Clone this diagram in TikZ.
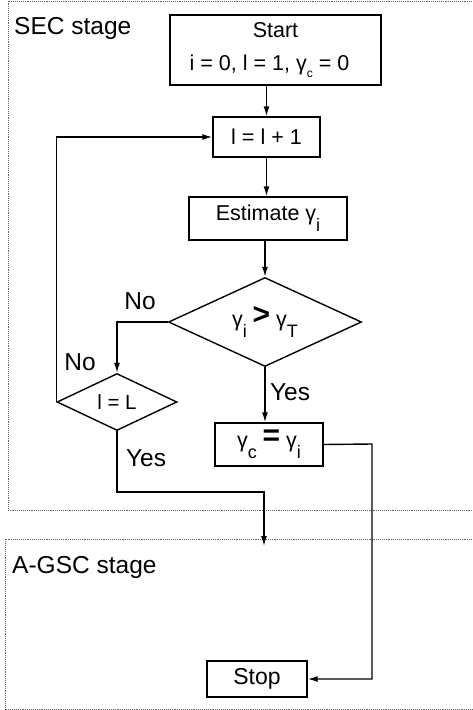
\documentclass[tikz,border=0pt]{standalone}
\usepackage{fontspec}
\setmainfont{Liberation Sans}
\usetikzlibrary{shapes.geometric,arrows.meta}
\newcommand\gsb[1]{γ\raisebox{-1.0ex}{\fontsize{18}{18}\selectfont #1}}
\newcommand\gsmall[1]{γ\raisebox{-0.6ex}{\fontsize{12}{12}\selectfont #1}}
\newcommand\bigop[1]{\raisebox{0.15ex}{\fontsize{30}{30}\selectfont\bfseries #1}}
\begin{document}
\begin{tikzpicture}[x=1pt,y=-1pt,
  every node/.style={font=\fontsize{21.5}{25}\selectfont},
  procbox/.style={draw,line width=1.4pt,inner sep=0pt,align=center},
  decision/.style={draw,diamond,line width=1.4pt,inner sep=0pt,aspect=2.2},
  conn/.style={line width=1.4pt},
  arr/.style={conn,-{Latex[length=10pt,width=6pt]}},
  stagebox/.style={gray!80!black,line width=0.9pt,densely dotted},
  lbl/.style={font=\fontsize{24.5}{28}\selectfont}]
\useasboundingbox (0,0) rectangle (472,710);
% stage frames
\draw[stagebox] (472,1) -- (8,1) -- (8,510) -- (472,510);
\draw[stagebox] (472,539) -- (5,539) -- (5,709) -- (472,709);
\node[lbl,anchor=base west,inner sep=0pt] (sec) at (14,34) {SEC stage};
\node[lbl,anchor=base west,inner sep=0pt] (agsc) at (12,573) {A-GSC stage};
% nodes
\node[procbox,minimum width=211pt,minimum height=70pt] (start) at (275.5,50) {Start\\[8pt]i = 0, l = 1, \gsmall{c} = 0\hspace*{12pt}\rule[-6pt]{0pt}{6pt}};
\node[procbox,minimum width=107pt,minimum height=40pt] (inc) at (266.5,137) {l = l + 1};
\node[procbox,minimum width=158pt,minimum height=43pt] (est) at (268,218.5) {Estimate \gsb{i}};
\node[decision,minimum width=193pt,minimum height=89pt] (dia) at (265,322) {\gsb{i} \bigop{>} \gsb{T}};
\node[decision,minimum width=120pt,minimum height=57pt,font=\fontsize{20.5}{24}\selectfont] (lL) at (117,402) {l = L};
\node[procbox,minimum width=108pt,minimum height=43pt] (gc) at (269,444.5) {\gsb{c} \bigop{=} \gsb{i}};
\node[procbox,minimum width=100pt,minimum height=36pt,font=\fontsize{23}{26}\selectfont] (stop) at (257,679) {Stop};
% labels
\node[lbl] (no1) at (140,301) {No};
\node[lbl] (no2) at (80,362) {No};
\node[lbl] (yes1) at (290,392) {Yes};
\node[lbl] (yes2) at (146,458) {Yes};
% helper coordinates
\coordinate (j1) at (117,492);
\coordinate (j2) at (264,492);
\coordinate (agscin) at (264,546);
\coordinate (r1) at (372,444);
\coordinate (r2) at (372,679);
% connectors
\draw[arr] (start.south -| inc.north) -- (inc.north);
\draw[arr] (inc.south) -- (inc.south |- est.north);
\draw[arr] (est.south -| dia.north) -- (dia.north);
\draw[arr] (dia.west) -- (dia.west -| lL.north) -- (lL.north);
\draw[arr] (lL.west) -- (lL.west |- inc.west) -- (inc.west);
\draw[arr] (dia.south) -- (dia.south |- gc.north);
\draw[arr] (lL.south) -- (j1) -- (j2) -- (agscin);
\draw[arr] (gc.east) -- (r1) -- (r2) -- (stop.east);
\end{tikzpicture}
\end{document}
